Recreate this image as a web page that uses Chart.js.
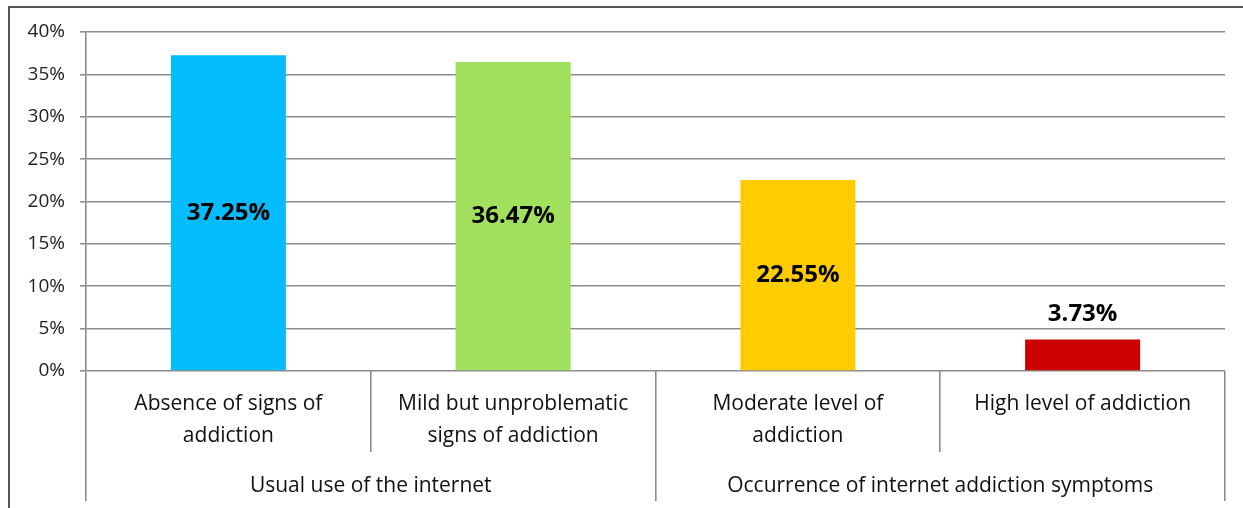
<!DOCTYPE html>
<html>
<head>
<meta charset="utf-8">
<script src="https://cdn.jsdelivr.net/npm/chart.js@4"></script>
<style>
  html, body { margin: 0; padding: 0; background: #fff; overflow: hidden; }
  #frame { position: absolute; left: 8px; top: 6px; width: 1250px; height: 520px;
           border-left: 2px solid #555; border-top: 2px solid #555; }
  #wrap { position: absolute; left: 0; top: 0; width: 1243px; height: 508px; }
</style>
</head>
<body>
<div id="frame"></div>
<div id="wrap"><canvas id="chart" width="1243" height="508"></canvas></div>
<script>
const categories = [
  ['Absence of signs of', 'addiction'],
  ['Mild but unproblematic', 'signs of addiction'],
  ['Moderate level of', 'addiction'],
  ['High level of addiction']
]
const groups = ['Usual use of the internet', 'Occurrence of internet addiction symptoms']
const values = [37.25, 36.47, 22.55, 3.73]
const colors = ['#05BCFC', '#A0E05C', '#FFCC00', '#CC0000']

const gray = '#8C8C8C'
const font = 'Open Sans'

// value labels: centred in tall bars, above short ones
const barLabels = {
  id: 'barLabels',
  afterDatasetsDraw (chart) {
    const ctx = chart.ctx
    const meta = chart.getDatasetMeta(0)
    ctx.save()
    ctx.font = 'bold 24px "' + font + '"'
    ctx.fillStyle = '#000'
    ctx.textAlign = 'center'
    ctx.textBaseline = 'middle'
    meta.data.forEach((bar, i) => {
      const text = values[i].toFixed(2) + '%'
      let y = (bar.y + bar.base) / 2
      if (values[i] < 10) y = bar.y - 25
      ctx.fillText(text, bar.x, y)
    })
    ctx.restore()
  }
}

new Chart(document.getElementById('chart'), {
  type: 'bar',
  data: {
    labels: categories,
    datasets: [{
      data: values,
      backgroundColor: colors,
      categoryPercentage: 1,
      barPercentage: 0.404
    }]
  },
  options: {
    responsive: false,
    animation: false,
    layout: { padding: { left: 20, top: 32, right: 18, bottom: 7 } },
    plugins: { legend: { display: false }, tooltip: { enabled: false } },
    scales: {
      y: {
        min: 0,
        max: 40,
        ticks: {
          stepSize: 5,
          padding: 15,
          color: '#222',
          font: { family: font, size: 19 },
          callback: (v) => v + '%'
        },
        grid: { color: gray, lineWidth: 1.6, tickLength: 6 },
        border: { color: gray, width: 1.6 },
        afterFit: (s) => { s.width = 66 }
      },
      x: {
        weight: 0,
        offset: true,
        ticks: {
          padding: -64,
          color: '#111',
          maxRotation: 0,
          font: { family: font, size: 21, lineHeight: 1.52 }
        },
        grid: { offset: true, drawOnChartArea: false, tickLength: 81, color: gray, lineWidth: 1.6 },
        border: { display: false },
        afterFit: (s) => { s.height = 81 }
      },
      x2: {
        type: 'category',
        position: 'bottom',
        weight: 1,
        labels: groups,
        offset: true,
        ticks: {
          padding: -31,
          color: '#111',
          maxRotation: 0,
          font: { family: font, size: 21, lineHeight: 1.52 }
        },
        grid: { offset: true, drawOnChartArea: false, tickLength: 49, color: gray, lineWidth: 1.6 },
        border: { display: false },
        afterFit: (s) => { s.height = 49 }
      }
    }
  },
  plugins: [barLabels]
})
</script>
</body>
</html>
